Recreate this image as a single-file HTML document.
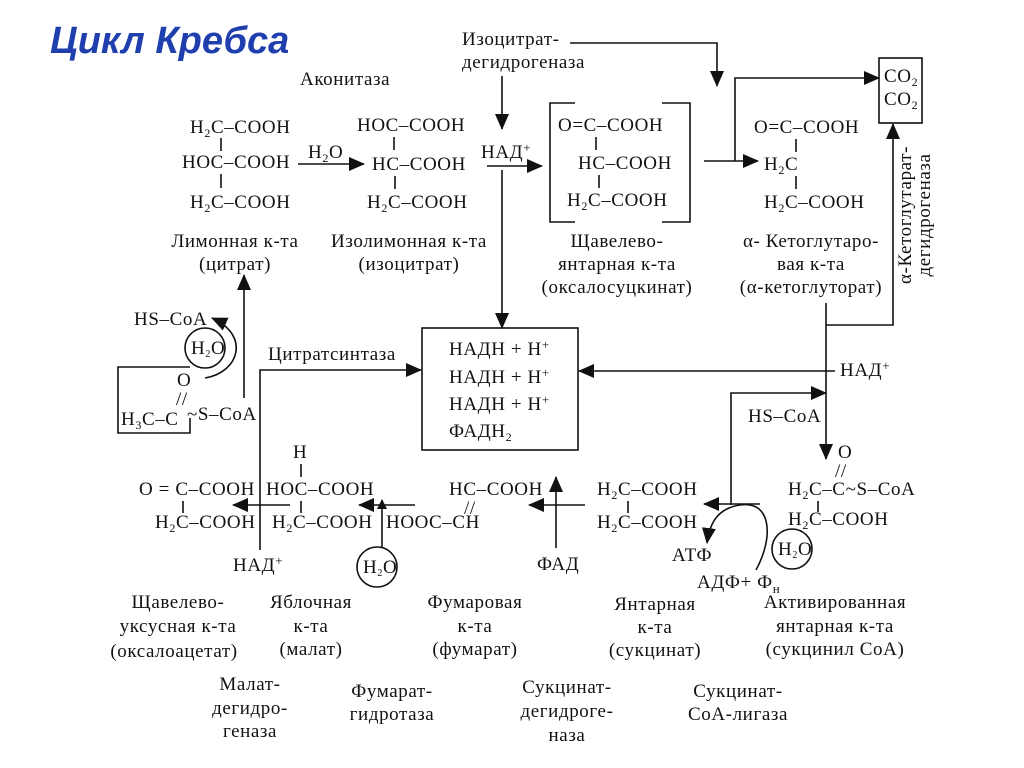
<!DOCTYPE html>
<html><head><meta charset="utf-8"><style>
body{margin:0;background:#fff;width:1024px;height:768px;overflow:hidden}
svg{display:block}
text{font-family:"Liberation Serif","DejaVu Serif",serif;font-size:19px;letter-spacing:0.6px;fill:#111}
.t{font-family:"Liberation Sans",sans-serif;font-size:38px;font-weight:bold;font-style:italic;fill:#1f3fae;letter-spacing:0}
.c{text-anchor:middle}
line,path,rect,circle,polyline{stroke:#111;stroke-width:1.6;fill:none}
.ah{fill:#111;stroke:none}
</style></head><body>
<svg width="1024" height="768" viewBox="0 0 1024 768">
<defs><marker id="a" markerWidth="10" markerHeight="10" refX="9" refY="5" orient="auto" markerUnits="userSpaceOnUse"><path d="M0,0 L10,5 L0,10 z" class="ah"/></marker>
<marker id="b" markerWidth="16" markerHeight="16" refX="15" refY="7" orient="auto" markerUnits="userSpaceOnUse"><path d="M0,0 L16,7 L0,14 z" class="ah"/></marker></defs>
<text x="50" y="53" class="t" fill="#1f3fae">Цикл Кребса</text>

<!-- citrate -->
<text x="190" y="133">H<tspan font-size="12" dy="4">2</tspan><tspan dy="-4">C–COOH</tspan></text>
<line x1="221" y1="138" x2="221" y2="151"/>
<text x="182" y="168">HOC–COOH</text>
<line x1="221" y1="174" x2="221" y2="188"/>
<text x="190" y="208">H<tspan font-size="12" dy="4">2</tspan><tspan dy="-4">C–COOH</tspan></text>
<text x="235" y="247" class="c">Лимонная к-та</text>
<text x="235" y="270" class="c">(цитрат)</text>
<text x="300" y="85">Аконитаза</text>
<text x="308" y="158">H<tspan font-size="12" dy="4">2</tspan><tspan dy="-4">O</tspan></text>
<line x1="298" y1="164" x2="364" y2="164" marker-end="url(#b)"/>
<!-- isocitrate -->
<text x="357" y="131">HOC–COOH</text>
<line x1="394" y1="137" x2="394" y2="150"/>
<text x="372" y="170">HC–COOH</text>
<line x1="395" y1="176" x2="395" y2="189"/>
<text x="367" y="208">H<tspan font-size="12" dy="4">2</tspan><tspan dy="-4">C–COOH</tspan></text>
<text x="409" y="247" class="c">Изолимонная к-та</text>
<text x="409" y="270" class="c">(изоцитрат)</text>

<text x="462" y="45">Изоцитрат-</text>
<text x="462" y="68">дегидрогеназа</text>
<polyline points="570,43 717,43 717,86" marker-end="url(#b)"/>
<line x1="502" y1="76" x2="502" y2="129" marker-end="url(#b)"/>
<text x="481" y="158">НАД<tspan font-size="13" dy="-6">+</tspan></text>
<line x1="487" y1="166" x2="542" y2="166" marker-end="url(#b)"/>
<line x1="502" y1="170" x2="502" y2="328" marker-end="url(#b)"/>

<!-- oxalosuccinate -->
<polyline points="575,103 550,103 550,222 575,222"/>
<polyline points="662,103 690,103 690,222 662,222"/>
<text x="558" y="131">O=C–COOH</text>
<line x1="596" y1="137" x2="596" y2="150"/>
<text x="578" y="169">HC–COOH</text>
<line x1="599" y1="175" x2="599" y2="188"/>
<text x="567" y="206">H<tspan font-size="12" dy="4">2</tspan><tspan dy="-4">C–COOH</tspan></text>
<text x="617" y="247" class="c">Щавелево-</text>
<text x="617" y="270" class="c">янтарная к-та</text>
<text x="617" y="293" class="c">(оксалосуцкинат)</text>
<line x1="704" y1="161" x2="758" y2="161" marker-end="url(#b)"/>
<polyline points="735,161 735,78 879,78" marker-end="url(#b)"/>
<rect x="879" y="58" width="43" height="65"/>
<text x="884" y="82">CO<tspan font-size="12" dy="4">2</tspan></text>
<text x="884" y="105">CO<tspan font-size="12" dy="4">2</tspan></text>
<!-- a-KG -->
<text x="754" y="133">O=C–COOH</text>
<line x1="796" y1="139" x2="796" y2="152"/>
<text x="764" y="170">H<tspan font-size="12" dy="4">2</tspan><tspan dy="-4">C</tspan></text>
<line x1="796" y1="176" x2="796" y2="189"/>
<text x="764" y="208">H<tspan font-size="12" dy="4">2</tspan><tspan dy="-4">C–COOH</tspan></text>
<text x="811" y="247" class="c">α- Кетоглутаро-</text>
<text x="811" y="270" class="c">вая к-та</text>
<text x="811" y="293" class="c">(α-кетоглуторат)</text>
<text transform="translate(911,215) rotate(-90)" class="c">α-Кетоглутарат-</text>
<text transform="translate(930,215) rotate(-90)" class="c">дегидрогеназа</text>
<polyline points="826,325 893,325 893,124" marker-end="url(#b)"/>
<line x1="826" y1="303" x2="826" y2="459" marker-end="url(#b)"/>
<text x="840" y="376">НАД<tspan font-size="13" dy="-6">+</tspan></text>
<line x1="835" y1="371" x2="579" y2="371" marker-end="url(#b)"/>
<polyline points="731,505 731,393 826,393" marker-end="url(#b)"/>
<text x="748" y="422">HS–CoA</text>

<!-- central box -->
<rect x="422" y="328" width="156" height="122"/>
<text x="449" y="355">НАДН + Н<tspan font-size="13" dy="-6">+</tspan></text>
<text x="449" y="383">НАДН + Н<tspan font-size="13" dy="-6">+</tspan></text>
<text x="449" y="410">НАДН + Н<tspan font-size="13" dy="-6">+</tspan></text>
<text x="449" y="437">ФАДН<tspan font-size="12" dy="4">2</tspan></text>

<text x="268" y="360">Цитратсинтаза</text>
<polyline points="260,550 260,370 421,370" marker-end="url(#b)"/>
<line x1="244" y1="398" x2="244" y2="275" marker-end="url(#b)"/>
<!-- acetyl CoA -->
<polyline points="190,367 118,367 118,433 190,433 190,418"/>
<text x="177" y="386">O</text>
<text x="176" y="405" font-size="13">//</text>
<text x="121" y="425">H<tspan font-size="12" dy="4">3</tspan><tspan dy="-4">C–C</tspan></text>
<text x="187" y="420">~S–CoA</text>
<circle cx="205" cy="348" r="20"/>
<text x="191" y="354" font-size="15" letter-spacing="0">H<tspan font-size="10" dy="3">2</tspan><tspan dy="-3">O</tspan></text>
<path d="M205,378 C240,372 250,335 212,318" marker-end="url(#b)"/>
<text x="134" y="325">HS–CoA</text>

<!-- bottom row -->
<text x="139" y="495">O = C–COOH</text>
<line x1="183" y1="501" x2="183" y2="513"/>
<text x="155" y="528">H<tspan font-size="12" dy="4">2</tspan><tspan dy="-4">C–COOH</tspan></text>
<line x1="290" y1="505" x2="233" y2="505" marker-end="url(#b)"/>
<text x="293" y="458">H</text>
<line x1="301" y1="464" x2="301" y2="477"/>
<text x="266" y="495">HOC–COOH</text>
<line x1="301" y1="501" x2="301" y2="513"/>
<text x="272" y="528">H<tspan font-size="12" dy="4">2</tspan><tspan dy="-4">C–COOH</tspan></text>
<text x="233" y="571">НАД<tspan font-size="13" dy="-6">+</tspan></text>
<line x1="415" y1="505" x2="359" y2="505" marker-end="url(#b)"/>
<line x1="382" y1="547" x2="382" y2="500" marker-end="url(#a)"/>
<circle cx="377" cy="567" r="20"/>
<text x="363" y="573" font-size="15" letter-spacing="0">H<tspan font-size="10" dy="3">2</tspan><tspan dy="-3">O</tspan></text>
<text x="449" y="495">HC–COOH</text>
<text x="464" y="514" font-size="13">//</text>
<text x="386" y="528">HOOC–CH</text>
<line x1="585" y1="505" x2="529" y2="505" marker-end="url(#b)"/>
<line x1="556" y1="548" x2="556" y2="477" marker-end="url(#b)"/>
<text x="537" y="570">ФАД</text>
<text x="597" y="495">H<tspan font-size="12" dy="4">2</tspan><tspan dy="-4">C–COOH</tspan></text>
<line x1="628" y1="501" x2="628" y2="513"/>
<text x="597" y="528">H<tspan font-size="12" dy="4">2</tspan><tspan dy="-4">C–COOH</tspan></text>
<line x1="760" y1="504" x2="704" y2="504" marker-end="url(#b)"/>
<path d="M756,570 C775,535 770,500 740,505 C720,508 710,520 707,543" marker-end="url(#b)"/>
<text x="672" y="561">АТФ</text>
<text x="697" y="588">АДФ+ Ф<tspan font-size="13" dy="5">н</tspan></text>
<circle cx="792" cy="549" r="20"/>
<text x="778" y="555" font-size="15" letter-spacing="0">H<tspan font-size="10" dy="3">2</tspan><tspan dy="-3">O</tspan></text>
<text x="838" y="458">O</text>
<text x="835" y="477" font-size="13">//</text>
<text x="788" y="495">H<tspan font-size="12" dy="4">2</tspan><tspan dy="-4">C–C~S–CoA</tspan></text>
<line x1="818" y1="501" x2="818" y2="512"/>
<text x="788" y="525">H<tspan font-size="12" dy="4">2</tspan><tspan dy="-4">C–COOH</tspan></text>

<!-- bottom labels -->
<text x="178" y="608" class="c">Щавелево-</text>
<text x="178" y="632" class="c">уксусная к-та</text>
<text x="174" y="657" class="c">(оксалоацетат)</text>
<text x="311" y="608" class="c">Яблочная</text>
<text x="311" y="632" class="c">к-та</text>
<text x="311" y="655" class="c">(малат)</text>
<text x="475" y="608" class="c">Фумаровая</text>
<text x="475" y="632" class="c">к-та</text>
<text x="475" y="655" class="c">(фумарат)</text>
<text x="655" y="610" class="c">Янтарная</text>
<text x="655" y="633" class="c">к-та</text>
<text x="655" y="656" class="c">(сукцинат)</text>
<text x="835" y="608" class="c">Активированная</text>
<text x="835" y="632" class="c">янтарная к-та</text>
<text x="835" y="655" class="c">(сукцинил CoA)</text>
<text x="250" y="690" class="c">Малат-</text>
<text x="250" y="714" class="c">дегидро-</text>
<text x="250" y="737" class="c">геназа</text>
<text x="392" y="697" class="c">Фумарат-</text>
<text x="392" y="720" class="c">гидротаза</text>
<text x="567" y="693" class="c">Сукцинат-</text>
<text x="567" y="717" class="c">дегидроге-</text>
<text x="567" y="741" class="c">наза</text>
<text x="738" y="697" class="c">Сукцинат-</text>
<text x="738" y="720" class="c">CoA-лигаза</text>
</svg>
</body></html>
